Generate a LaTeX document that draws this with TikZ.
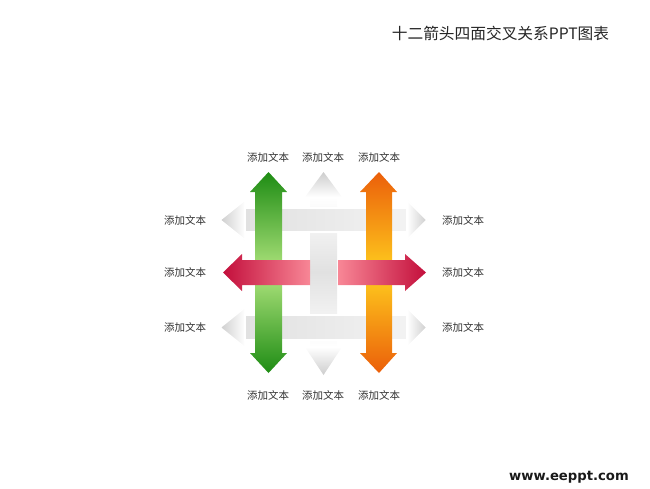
\documentclass[tikz,border=0pt]{standalone}
\usepackage{fontspec}
\newfontfamily\cjk{Noto Sans CJK SC}
\newfontfamily\webfont{DejaVu Sans}

\definecolor{greenDark}{RGB}{30,140,20}
\definecolor{greenLight}{RGB}{175,228,125}
\definecolor{orangeDark}{RGB}{235,95,10}
\definecolor{orangeLight}{RGB}{255,205,30}
\definecolor{redDark}{RGB}{195,15,60}
\definecolor{redLight}{RGB}{248,135,150}
\definecolor{greyEdge}{RGB}{205,205,205}
\definecolor{greyBand}{RGB}{225,225,225}

\tikzset{
  lbl/.style={font=\cjk\fontsize{10.5}{12}\selectfont, text=black!80, inner sep=0pt},
  greypart/.style={draw=white, line width=1.5pt},
}

\begin{document}
\begin{tikzpicture}[x=1pt,y=-1pt]
\useasboundingbox (0,0) rectangle (650,488);
% title and site
\node[font=\cjk\fontsize{15.7}{18}\selectfont, text=black!85, inner sep=0pt] (title) at (500.5,33) {十二箭头四面交叉关系PPT图表};
\node[font=\webfont\bfseries\fontsize{13.2}{16}\selectfont, text=black!90, inner sep=0pt] (site) at (569,477) {www.eeppt.com};
% grey vertical arrow (middle)
\shade[top color=greyEdge, bottom color=white] (323.5,172) -- (342,197) -- (305,197) -- cycle;
\shade[top color=white, bottom color=white, middle color=greyBand] (310,197) rectangle (337,347);
\shade[top color=white, bottom color=greyEdge] (305,347) -- (342,347) -- (323.5,375) -- cycle;
% grey rows
\shade[greypart, left color=greyEdge, right color=white] (220,220) -- (245,200) -- (245,240) -- cycle;
\shade[greypart, left color=greyBand, right color=white!95!black] (245,208) rectangle (407,232);
\shade[greypart, left color=white, right color=greyEdge] (407,200) -- (427,220) -- (407,240) -- cycle;
\shade[greypart, left color=greyEdge, right color=white] (220,327.5) -- (245,307.5) -- (245,347.5) -- cycle;
\shade[greypart, left color=greyBand, right color=white!95!black] (245,315) rectangle (407,340);
\shade[greypart, left color=white, right color=greyEdge] (407,307.5) -- (427,327.5) -- (407,347.5) -- cycle;
% green arrow
\shade[top color=greenDark, bottom color=greenDark, middle color=greenLight]
  (268.5,172) -- (287,192) -- (282,192) -- (282,353) -- (287,353) -- (268.5,373)
  -- (250,353) -- (255,353) -- (255,192) -- (250,192) -- cycle;
% orange arrow
\shade[top color=orangeDark, bottom color=orangeDark, middle color=orangeLight]
  (379,172) -- (397,192) -- (392,192) -- (392,353) -- (397,353) -- (379,373)
  -- (360,353) -- (366,353) -- (366,192) -- (360,192) -- cycle;
% red arrow, two halves
\shade[left color=redDark, right color=redLight]
  (223,272.5) -- (242,254) -- (242,260) -- (310,260) -- (310,285) -- (242,285) -- (242,291) -- cycle;
\shade[left color=redLight, right color=redDark]
  (338,260) -- (405,260) -- (405,254) -- (426,272.5) -- (405,291) -- (405,285) -- (338,285) -- cycle;
% labels
\node[lbl] (t1) at (268,157) {添加文本};
\node[lbl] (t2) at (323,157) {添加文本};
\node[lbl] (t3) at (379,157) {添加文本};
\node[lbl] (b1) at (268,395) {添加文本};
\node[lbl] (b2) at (323,395) {添加文本};
\node[lbl] (b3) at (379,395) {添加文本};
\node[lbl] (l1) at (185,220) {添加文本};
\node[lbl] (l2) at (185,272) {添加文本};
\node[lbl] (l3) at (185,327) {添加文本};
\node[lbl] (r1) at (463,220) {添加文本};
\node[lbl] (r2) at (463,272) {添加文本};
\node[lbl] (r3) at (463,327) {添加文本};
\end{tikzpicture}
\end{document}
